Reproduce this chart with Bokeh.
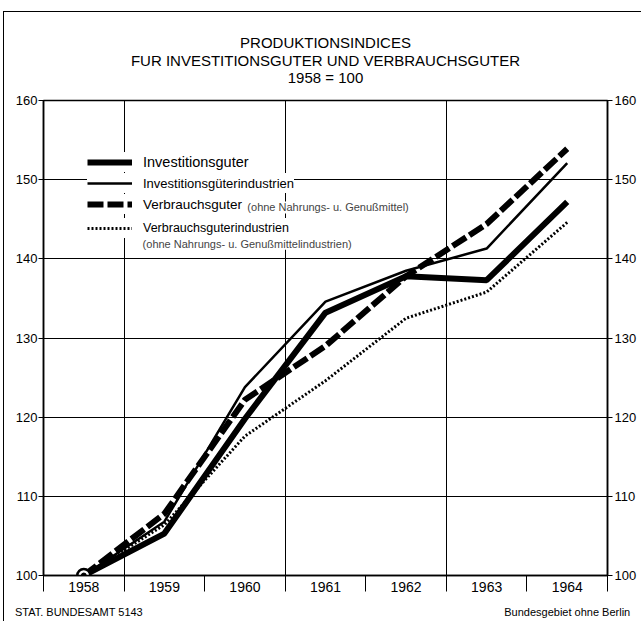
from bokeh.plotting import figure
from bokeh.models import (FixedTicker, LinearAxis, Label, Legend, LegendItem,
                          Range1d, Title)
from bokeh.embed import file_html
from bokeh.resources import INLINE

# ---- data ----
years = [1958, 1959, 1960, 1961, 1962, 1963, 1964]
investitionsgueter = [100, 105.3, 119.8, 133.2, 137.8, 137.3, 147.2]
investitionsgueter_industrien = [100, 106.8, 123.8, 134.6, 138.5, 141.3, 152.1]
verbrauchsgueter = [100, 107.8, 122.2, 129.0, 137.8, 144.4, 153.9]
verbrauchsgueter_industrien = [100, 106.4, 117.6, 124.6, 132.5, 135.8, 144.6]

y_ticks = [100, 110, 120, 130, 140, 150, 160]
year_bounds = [1957.5, 1958.5, 1959.5, 1960.5, 1961.5, 1962.5, 1963.5, 1964.5]
grid_years = [1958.5, 1960.5, 1962.5]

title_lines = ["PRODUKTIONSINDICES",
               "FUR INVESTITIONSGUTER UND VERBRAUCHSGUTER",
               "1958 = 100"]
legend_labels = ["Investitionsguter",
                 "Investitionsgüterindustrien",
                 "Verbrauchsguter",
                 "Verbrauchsguterindustrien"]
legend_notes = ["(ohne Nahrungs- u. Genußmittel)",
                "(ohne Nahrungs- u. Genußmittelindustrien)"]
footer_left = "STAT. BUNDESAMT 5143"
footer_right = "Bundesgebiet ohne Berlin"
footer_pos = [1957.94, 1964.0]

SANS = "Liberation Sans"

p = figure(width=638, height=610, title=None,
           x_range=Range1d(1957.5, 1964.5), y_range=Range1d(100, 160),
           output_backend="svg", toolbar_location=None,
           min_border_left=39, min_border_right=35,
           min_border_top=88, min_border_bottom=47)
p.styles = {"margin-left": "3px", "margin-top": "11px",
            "border-top": "1px solid black", "border-left": "1px solid black"}
p.outline_line_color = "black"
p.outline_line_width = 1.5
p.background_fill_color = "white"
p.border_fill_color = "white"

# y axes
def style_y(ax, standoff):
    ax.ticker = FixedTicker(ticks=y_ticks)
    ax.major_tick_in = 0
    ax.major_tick_out = 5
    ax.minor_tick_line_color = None
    ax.axis_line_width = 1.5
    ax.major_label_standoff = standoff
    ax.major_label_text_font = SANS
    ax.major_label_text_font_size = "13px"
    ax.major_label_text_color = "black"

style_y(p.yaxis[0], 1)
yr = LinearAxis()
style_y(yr, 2)
p.add_layout(yr, "right")

# x axis: labels at year centres, tick marks at year boundaries
xa = p.xaxis[0]
xa.ticker = FixedTicker(ticks=years, minor_ticks=year_bounds)
xa.major_tick_line_color = None
xa.major_tick_out = 0
xa.major_tick_in = 0
xa.minor_tick_in = 0
xa.minor_tick_out = 16
xa.minor_tick_line_color = "black"
xa.axis_line_width = 1.5
xa.major_label_standoff = -10
xa.major_label_text_font = SANS
xa.major_label_text_font_size = "14px"
xa.major_label_text_color = "black"

# footer line (source note left, area note right)
fa = LinearAxis(ticker=FixedTicker(ticks=footer_pos),
                major_label_overrides={footer_pos[0]: footer_left,
                                       footer_pos[1]: footer_right})
fa.axis_line_color = None
fa.major_tick_line_color = None
fa.minor_tick_line_color = None
fa.major_tick_out = 0
fa.major_tick_in = 0
fa.minor_tick_out = 0
fa.minor_tick_in = 0
fa.major_label_standoff = 11
fa.major_label_text_font = SANS
fa.major_label_text_font_size = "11px"
fa.major_label_text_color = "black"
p.add_layout(fa, "below")

# grids
p.ygrid.ticker = FixedTicker(ticks=y_ticks)
p.ygrid.grid_line_color = "black"
p.ygrid.grid_line_width = 1
p.xgrid.ticker = FixedTicker(ticks=grid_years)
p.xgrid.grid_line_color = "black"
p.xgrid.grid_line_width = 1

# series
r_dot = p.line(years, verbrauchsgueter_industrien, line_color="black",
               line_width=3, line_dash="2 2")
r_thin = p.line(years, investitionsgueter_industrien, line_color="black",
                line_width=2.5)
r_thick = p.line(years, investitionsgueter, line_color="black", line_width=6)
r_dash = p.line(years, verbrauchsgueter, line_color="black", line_width=6,
                line_dash="16 4")

p.scatter([years[0]], [investitionsgueter[0]], size=13, fill_color="white",
          line_color="black", line_width=2.5)
p.scatter([years[0]], [investitionsgueter[0]], size=5, fill_color="black",
          line_color="black")

# legend rows (one small legend per row, as in the original)
rows = [(legend_labels[0], r_thick, 403, "14.5px"),
        (legend_labels[1], r_thin, 382, "13px"),
        (legend_labels[2], r_dash, 361, "13.5px"),
        (legend_labels[3], r_dot, 337, "12.5px")]
for lab, rend, vy, fs in rows:
    lg = Legend(items=[LegendItem(label=lab, renderers=[rend])],
                location=(44, vy), orientation="vertical",
                glyph_width=45, glyph_height=20, label_height=20,
                label_standoff=11, padding=0, margin=0, spacing=0,
                border_line_color=None, background_fill_color="white",
                background_fill_alpha=1.0,
                label_text_font=SANS, label_text_font_size=fs,
                label_text_color="black")
    p.add_layout(lg)

p.add_layout(Label(x=1960.03, y=146.5, text=legend_notes[0],
                   text_font=SANS, text_font_size="11px",
                   text_baseline="middle", text_align="left",
                   background_fill_color="white"))
p.add_layout(Label(x=1958.73, y=141.9, text=legend_notes[1],
                   text_font=SANS, text_font_size="11px",
                   text_baseline="middle", text_align="left",
                   background_fill_color="white"))

# title (stacked upward from the frame: spacer, line 3, line 2, line 1)
p.add_layout(Title(text=" ", text_font=SANS, text_font_size="12px",
                   standoff=0), "above")
for txt, st in zip(reversed(title_lines), [-2, -2, 0]):
    p.add_layout(Title(text=txt, align="center", text_font=SANS,
                       text_font_size="15px", text_font_style="normal",
                       text_color="black", standoff=st), "above")

open("out.html", "w").write(file_html(p, INLINE))
